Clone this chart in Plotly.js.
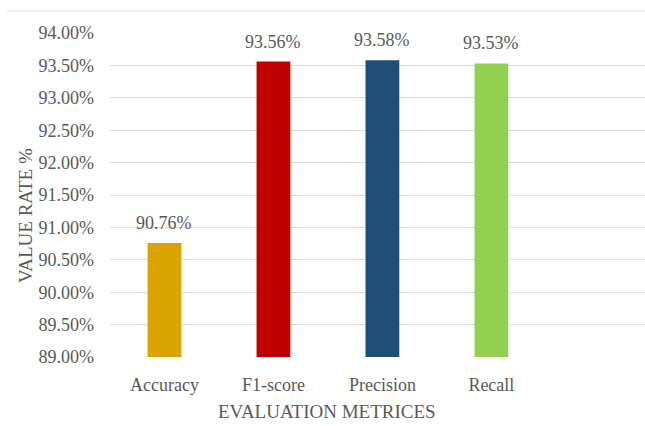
<!DOCTYPE html>
<html>
<head>
<meta charset="utf-8">
<script src="https://cdn.plot.ly/plotly-3.0.1.min.js"></script>
<style>html,body{margin:0;padding:0;background:#fff;}#chart{width:645px;height:426px;}</style>
</head>
<body>
<div id="chart"></div>
<script>
const categories = ["Accuracy", "F1-score", "Precision", "Recall"];
const values = [90.76, 93.56, 93.58, 93.53];
const labels = ["90.76%", "93.56%", "93.58%", "93.53%"];
const colors = ["#DAA500", "#C00000", "#1F4E79", "#92D050"];
const yTitle = "VALUE RATE %";
const xTitle = "EVALUATION METRICES";

const font = {family: "Liberation Serif", size: 18, color: "#595959"};
const titleFont = {family: "Liberation Serif", size: 19, color: "#595959"};

const trace = {
  type: "bar",
  x: categories,
  y: values,
  marker: {color: colors},
  width: 0.31,
  hoverinfo: "none"
};

const annotations = categories.map((c, i) => ({
  x: c, y: values[i], xref: "x", yref: "y",
  text: labels[i], showarrow: false, yanchor: "middle", yshift: 20,
  font: font
}));
annotations.push({
  xref: "paper", yref: "paper", x: (327 - 110) / 535, y: -(411 - 357) / 324,
  text: xTitle, showarrow: false, xanchor: "center", yanchor: "middle",
  font: titleFont
});
annotations.push({
  xref: "paper", yref: "paper", x: (25 - 110) / 535, y: (357 - 196) / 324,
  yshift: -20,
  text: yTitle, showarrow: false, textangle: -90, xanchor: "center", yanchor: "middle",
  font: titleFont
});

const layout = {
  width: 645, height: 426,
  margin: {l: 110, r: 0, t: 33, b: 69},
  paper_bgcolor: "#fff", plot_bgcolor: "#fff",
  font: font,
  showlegend: false,
  xaxis: {
    type: "category",
    range: [-0.5, 4.41],
    showgrid: false, zeroline: false, showline: false,
    ticks: "", ticklabelstandoff: 15,
    tickfont: font
  },
  yaxis: {
    range: [89, 94],
    dtick: 0.5, tick0: 89,
    tickformat: ".2f", ticksuffix: "%",
    showgrid: true, gridcolor: "#D9D9D9", gridwidth: 1,
    zeroline: false, showline: false,
    ticks: "", ticklabelstandoff: 15,
    tickfont: font
  },
  annotations: annotations,
  shapes: [{
    type: "line", xref: "paper", yref: "paper",
    x0: (7 - 110) / 535, x1: 1, y0: (357 - 11) / 324, y1: (357 - 11) / 324,
    line: {color: "#D9D9D9", width: 1}
  }]
};

Plotly.newPlot("chart", [trace], layout, {displayModeBar: false, staticPlot: true});
</script>
</body>
</html>
